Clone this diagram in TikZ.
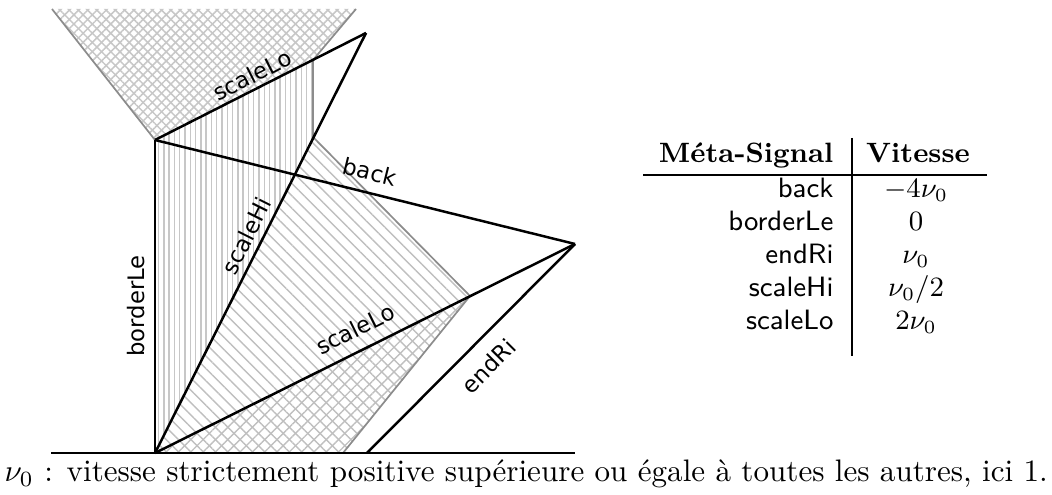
\documentclass[tikz,border=0pt]{standalone}
\usepackage{fontspec}
\newfontfamily\lblfont{DejaVu Sans}
\usetikzlibrary{patterns.meta}
\begin{document}
\begin{tikzpicture}[x=0.3216pt, y=-0.3216pt,
  sig/.style={line width=0.8pt, black, line join=round},
  edge/.style={line width=0.55pt, black!45},
  lbl/.style={font={\lblfont\fontsize{7.3}{8}\selectfont}, sloped, inner xsep=0pt, inner ysep=#1},
  lbl/.default=1pt,
  hatchV/.style={pattern={Lines[angle=90,distance=1.7pt,line width=0.45pt]}, pattern color=black!22},
  hatchNW/.style={pattern={Lines[angle=-45,distance=2.8pt,line width=0.45pt]}, pattern color=black!25},
  hatchNE/.style={pattern={Lines[angle=45,distance=2.8pt,line width=0.45pt]}, pattern color=black!25},
  fineNW/.style={pattern={Lines[angle=-45,distance=2.1pt,line width=0.5pt]}, pattern color=black!22},
  fineNE/.style={pattern={Lines[angle=45,distance=2.1pt,line width=0.5pt]}, pattern color=black!22},
  rule/.style={line width=0.5pt, black},
  cell/.style={font=\small\sffamily, inner sep=0pt, anchor=base east},
  val/.style={font=\small, inner sep=0pt, anchor=base}
]
\useasboundingbox (0,0) rectangle (1052,495);

% key points
\coordinate (O) at (155,453);
\coordinate (B) at (155,140);
\coordinate (A) at (575,244);
\coordinate (E0) at (367,453);
\coordinate (T) at (366,33);
\coordinate (V) at (313,60);
\coordinate (P) at (313,137);
\coordinate (Q) at (470,296);
\coordinate (R) at (343,453);
\coordinate (TL) at (52,9);
\coordinate (TR) at (356,9);
\coordinate (GL) at (51,453);
\coordinate (GR) at (575,453);

% hatched regions
\fill[fineNW] (TL) -- (B) -- (V) -- (TR) -- cycle;
\fill[fineNE] (TL) -- (B) -- (V) -- (TR) -- cycle;
\fill[hatchV] (O) -- (B) -- (V) -- (P) -- cycle;
\fill[hatchNW] (O) -- (P) -- (Q) -- (R) -- cycle;
\fill[hatchNE] (O) -- (Q) -- (R) -- cycle;

% gray region borders
\draw[edge] (B) -- (TL);
\draw[edge] (V) -- (TR);
\draw[edge] (V) -- (P);
\draw[edge] (P) -- (Q);
\draw[edge] (Q) -- (R);

% signals
\draw[sig] (GL) -- (GR);
\draw[sig] (O) -- node[lbl=2.9pt, pos=0.47, above] {borderLe} (B);
\draw[sig] (O) -- node[lbl=1.9pt, pos=0.5, above] {scaleHi} (T);
\draw[sig] (B) -- node[lbl=1.3pt, pos=0.49, above] {scaleLo} (T);
\draw[sig] (B) -- node[lbl=3.5pt, pos=0.5, above] {back} (A);
\draw[sig] (O) -- node[lbl=3.9pt, pos=0.5, above] {scaleLo} (A);
\draw[sig] (E0) -- node[lbl=4.8pt, pos=0.5, below] {endRi} (A);

% table
\node[cell, font=\small\bfseries\rmfamily] (h1) at (834,163) {Méta-Signal};
\node[val, font=\small\bfseries] (h2) at (918,163) {Vitesse};
\node[cell] (n1) at (834,198) {back};
\node[val] (v1) at (916,198) {$-4\nu_0$};
\node[cell] (n2) at (834,231) {borderLe};
\node[val] (v2) at (916,231) {$0$};
\node[cell] (n3) at (834,264) {endRi};
\node[val] (v3) at (916,264) {$\nu_0$};
\node[cell] (n4) at (834,297) {scaleHi};
\node[val] (v4) at (916,297) {$\nu_0/2$};
\node[cell] (n5) at (834,330) {scaleLo};
\node[val] (v5) at (916,330) {$2\nu_0$};
\coordinate (hl) at (643,175);
\coordinate (hr) at (987,175);
\coordinate (vt) at (852,138);
\coordinate (vb) at (852,356);
\draw[rule] (hl) -- (hr);
\draw[line width=0.4pt] (vt) -- (vb);

% caption
\node[inner sep=0pt, anchor=base west] (cap) at (4,482) {$\nu_0$ : vitesse strictement positive supérieure ou égale à toutes les autres, ici 1.};
\end{tikzpicture}
\end{document}
